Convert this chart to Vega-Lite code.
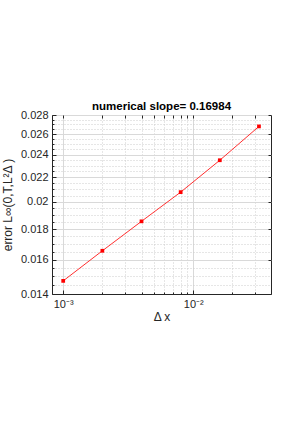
{
  "$schema": "https://vega.github.io/schema/vega-lite/v6.json",
  "width": 219,
  "height": 179,
  "autosize": {"type": "none"},
  "padding": {"left": 52, "top": 115, "right": 29, "bottom": 130},
  "background": "white",
  "config": {"view": {"stroke": "#262626", "strokeWidth": 1}, "font": "Liberation Sans"},
  "title": {"text": "numerical slope= 0.16984", "fontSize": 11.5, "fontWeight": "bold", "color": "#000000", "offset": -3, "font": "Liberation Sans"},
  "data": {"values": [
    {"dx": 0.001, "err": 0.01473},
    {"dx": 0.002, "err": 0.01655},
    {"dx": 0.004, "err": 0.01855},
    {"dx": 0.008, "err": 0.02077},
    {"dx": 0.016, "err": 0.02350},
    {"dx": 0.032, "err": 0.02679}
  ]},
  "layer": [
    {
      "mark": {"type": "line", "color": "#ff3030", "strokeWidth": 1},
      "encoding": {
        "x": {"field": "dx", "type": "quantitative", "scale": {"type": "log", "domain": [0.00082, 0.0396], "nice": false},
          "axis": {"orient": "bottom", "values": [0.001, 0.01], "grid": true, "gridColor": "#d9d9d9", "labelExpr": "datum.value < 0.005 ? '10⁻³' : '10⁻²'", "labelFontSize": 11, "labelColor": "#262626", "tickSize": -4, "tickColor": "#262626", "domainColor": "#262626", "labelPadding": 8, "labelFlush": false, "labelOverlap": false, "title": "Δ x", "titleFontSize": 12, "titleFontWeight": "normal", "titleColor": "#262626", "titlePadding": 2}},
        "y": {"field": "err", "type": "quantitative", "scale": {"type": "log", "domain": [0.014, 0.028], "nice": false},
          "axis": {"orient": "left", "values": [0.014, 0.016, 0.018, 0.02, 0.022, 0.024, 0.026, 0.028], "grid": true, "gridColor": "#d9d9d9", "labelExpr": "format(datum.value, '~g')", "labelFontSize": 11, "labelColor": "#262626", "tickSize": -4, "tickColor": "#262626", "domainColor": "#262626", "labelPadding": 8, "labelFlush": false, "labelOverlap": false, "title": "error L∞(0,T,L²Δ )", "titleFontSize": 12, "titleFontWeight": "normal", "titleColor": "#262626", "titlePadding": 6}}
      }
    },
    {
      "mark": {"type": "point", "shape": "square", "filled": true, "color": "#ff0000", "size": 14, "opacity": 1},
      "encoding": {
        "x": {"field": "dx", "type": "quantitative", "scale": {"type": "log", "domain": [0.00082, 0.0396], "nice": false},
          "axis": {"orient": "bottom", "values": [0.002, 0.003, 0.004, 0.005, 0.006, 0.007, 0.008, 0.009, 0.02, 0.03], "grid": true, "gridColor": "#cccccc", "gridDash": [1, 2], "labels": false, "tickSize": -2, "tickColor": "#262626", "domain": false, "title": null}},
        "y": {"field": "err", "type": "quantitative", "scale": {"type": "log", "domain": [0.014, 0.028], "nice": false},
          "axis": {"orient": "left", "values": [0.0145, 0.015, 0.0155, 0.0165, 0.017, 0.0175, 0.0185, 0.019, 0.0195, 0.0205, 0.021, 0.0215, 0.0225, 0.023, 0.0235, 0.0245, 0.025, 0.0255, 0.0265, 0.027, 0.0275], "grid": true, "gridColor": "#cccccc", "gridDash": [1, 2], "labels": false, "tickSize": -2, "tickColor": "#262626", "domain": false, "title": null}}
      }
    },
    {
      "mark": {"type": "point", "opacity": 0},
      "encoding": {
        "x": {"field": "dx", "type": "quantitative", "scale": {"type": "log", "domain": [0.00082, 0.0396], "nice": false},
          "axis": {"orient": "top", "values": [0.001, 0.002, 0.003, 0.004, 0.005, 0.006, 0.007, 0.008, 0.009, 0.01, 0.02, 0.03], "grid": false, "labels": false, "tickSize": -3, "tickColor": "#262626", "domain": false, "title": null}},
        "y": {"field": "err", "type": "quantitative", "scale": {"type": "log", "domain": [0.014, 0.028], "nice": false},
          "axis": {"orient": "right", "values": [0.014, 0.016, 0.018, 0.02, 0.022, 0.024, 0.026, 0.028], "grid": false, "labels": false, "tickSize": -3, "tickColor": "#262626", "domain": false, "title": null}}
      }
    }
  ],
  "resolve": {"axis": {"x": "independent", "y": "independent"}}
}
